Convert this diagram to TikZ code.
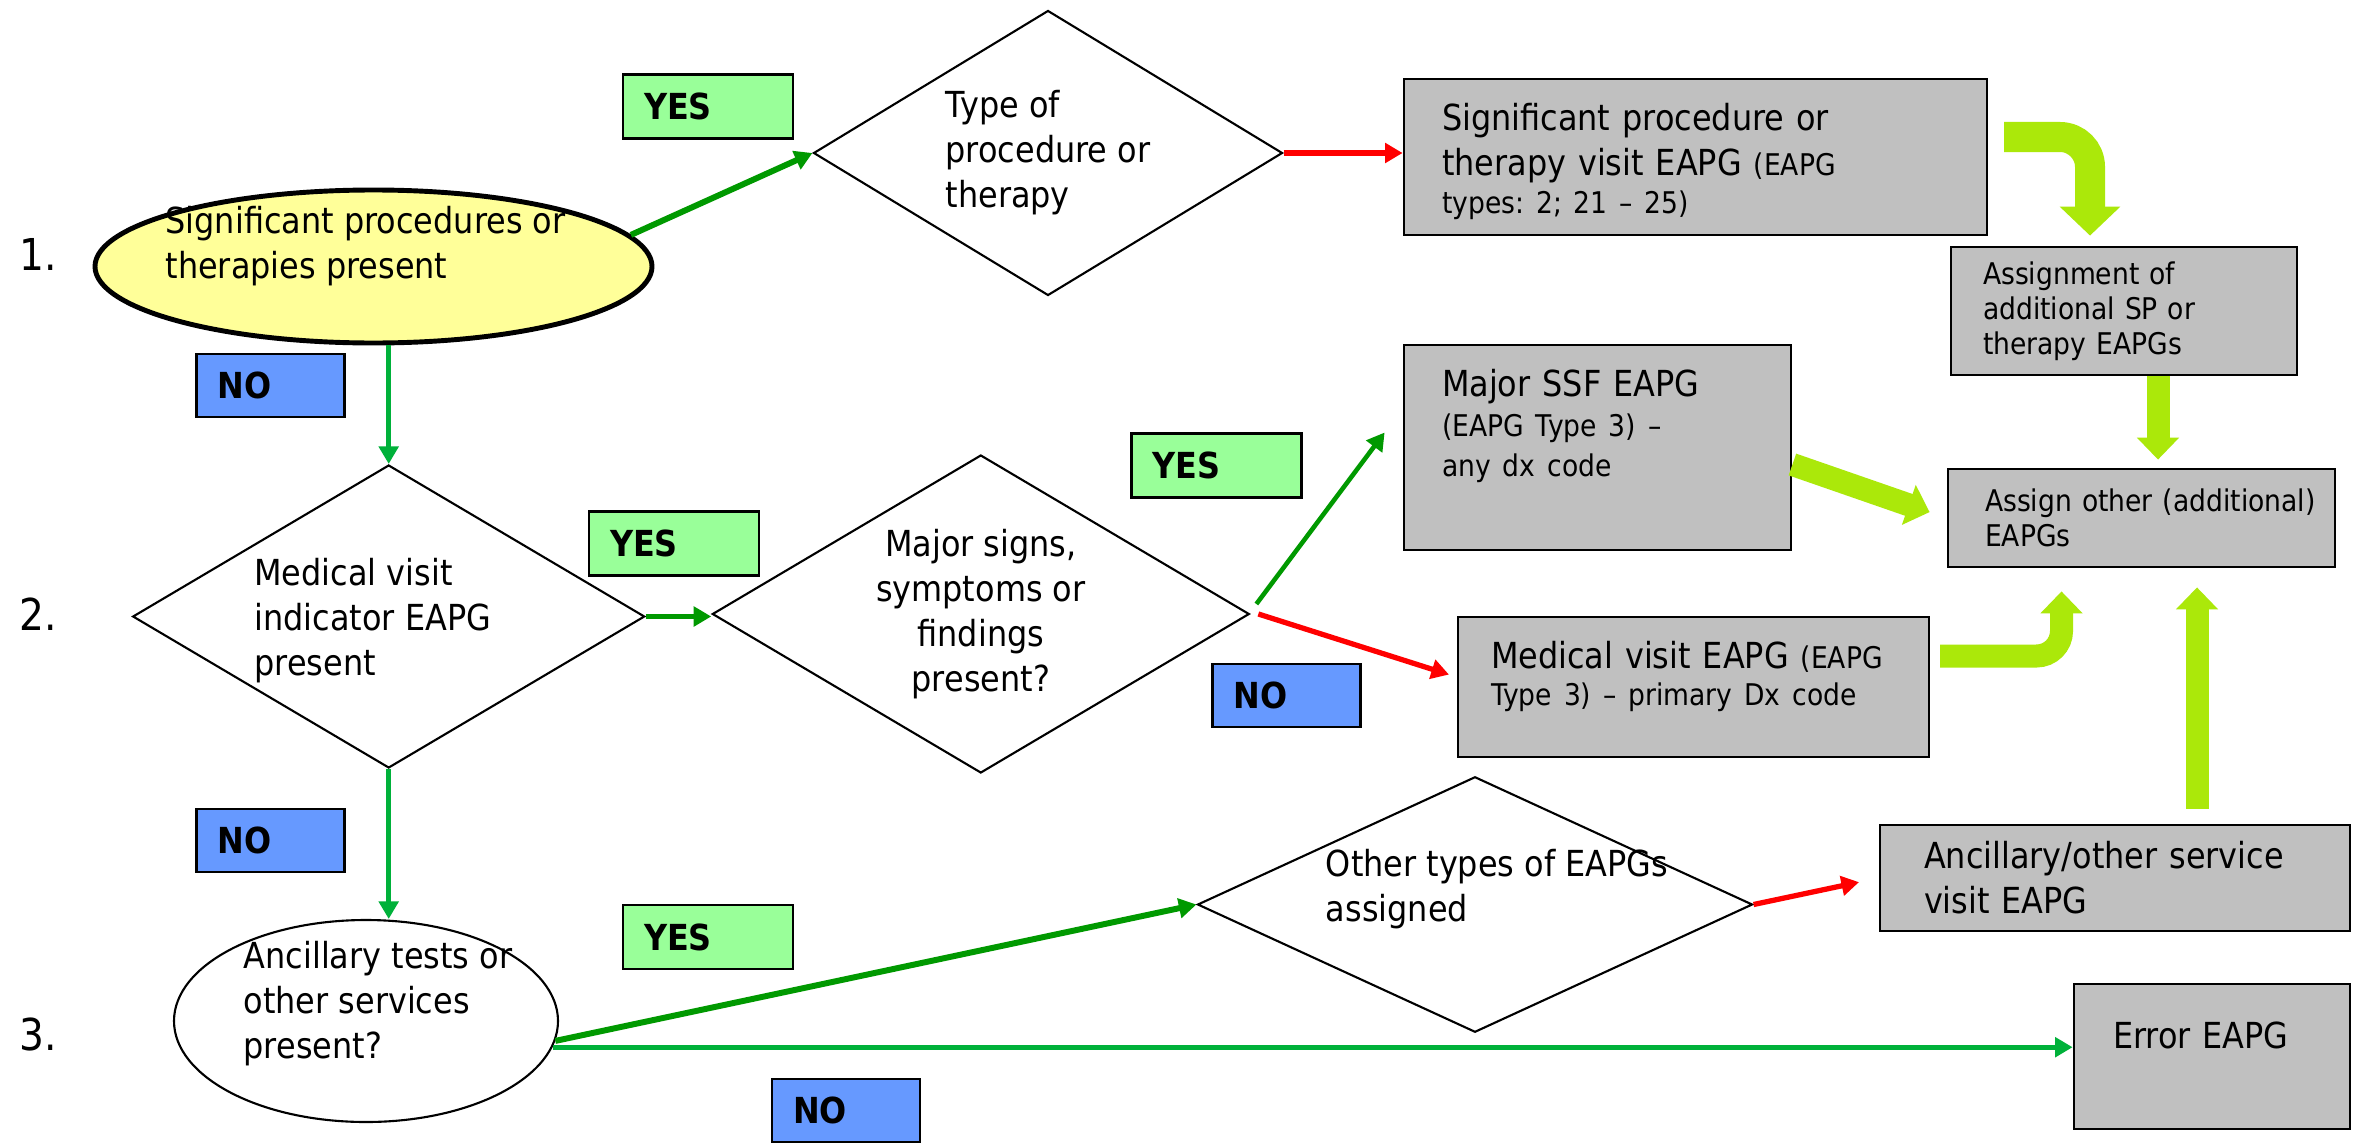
\documentclass[tikz,border=0pt]{standalone}
\usepackage{fontspec}
\setmainfont{DejaVu Sans}[FakeStretch=0.89]
\usetikzlibrary{arrows.meta,shapes.geometric}
\definecolor{boxgray}{HTML}{C0C0C0}
\definecolor{yesfill}{HTML}{99FF99}
\definecolor{nofill}{HTML}{6699FF}
\definecolor{startfill}{HTML}{FFFF99}
\definecolor{dkgreen}{HTML}{009900}
\definecolor{ltgreen}{HTML}{00B13A}
\definecolor{limefill}{HTML}{ABE80A}
\newcommand\lgfont{\fontsize{10.2}{12.8}\selectfont}
\newcommand\smfont{\fontsize{8.5}{10}\selectfont}
\newcommand\numfont{\fontsize{12.5}{15}\selectfont}
\frenchspacing
\tikzset{
  txt/.style={font=\lgfont,align=left,inner sep=0pt},
  startnode/.style={ellipse,draw=black,line width=1.4pt,fill=startfill,inner sep=0pt},
  askoval/.style={ellipse,draw=black,line width=0.6pt,fill=white,inner sep=0pt},
  decision/.style={diamond,draw=black,line width=0.6pt,inner sep=0pt},
  outcome/.style={draw=black,line width=0.8pt,fill=boxgray,font=\lgfont,align=left},
  yesbox/.style={draw=black,line width=0.8pt,fill=yesfill,font=\lgfont\bfseries,align=left,
    text width=1.28cm,inner xsep=0.21cm,minimum height=0.64cm},
  nobox/.style={draw=black,line width=0.8pt,fill=nofill,font=\lgfont\bfseries,align=left,
    text width=1.06cm,inner xsep=0.21cm,minimum height=0.63cm},
  yesline/.style={draw=dkgreen,line width=1.7pt,-{Triangle[width=5.5pt,length=5pt]}},
  noline/.style={draw=ltgreen,line width=1.5pt,-{Triangle[width=5.5pt,length=5pt]}},
  redline/.style={draw=red,line width=1.5pt,-{Triangle[width=5.5pt,length=5pt]}},
  limearrow/.style={draw=limefill,line width=0.23cm,-{Triangle[width=0.41cm,length=0.22cm]}}
}
\begin{document}
\begin{tikzpicture}
  \path[use as bounding box,fill=white] (0,0) rectangle (23.62,11.42);
  % row numbers
  \foreach \k/\y in {1/8.88,2/5.28,3/1.08}
    \node[font=\numfont] (num\k) at (0.38,\y) {\k.};
  % questions
  \node[startnode,minimum width=5.57cm,minimum height=1.53cm,
    label={[txt,xshift=-0.8mm,yshift=2mm]center:{Significant procedures or\\therapies present}}] (e1) at (3.735,8.755) {};
  \node[decision,minimum width=4.69cm,minimum height=2.85cm,
    label={[txt]center:{Type of\\procedure or\\therapy}}] (d1) at (10.48,9.89) {};
  \node[decision,minimum width=5.12cm,minimum height=3.03cm,
    label={[txt,xshift=-1.6mm,yshift=-0.4mm]center:{Medical visit\\indicator EAPG\\present}}] (d2) at (3.887,5.255) {};
  \node[decision,minimum width=5.37cm,minimum height=3.18cm,
    label={[txt,align=center]center:{Major signs,\\symptoms or\\findings\\present?}}] (d3) at (9.808,5.28) {};
  \node[askoval,minimum width=3.84cm,minimum height=2.02cm,
    label={[txt,xshift=1.2mm,yshift=1.7mm]center:{Ancillary tests or\\other services\\present?}}] (e3) at (3.66,1.21) {};
  \node[decision,minimum width=5.55cm,minimum height=2.555cm,
    label={[txt,xshift=2.2mm,yshift=1.5mm]center:{Other types of EAPGs\\assigned}}] (d4) at (14.75,2.375) {};
  % resulting EAPGs
  \node[outcome,minimum width=5.83cm,minimum height=1.56cm,text width=5.07cm,inner xsep=3.8mm,text depth=0.8cm] (b5) at (16.955,9.85)
    {Significant procedure or\\therapy visit EAPG {\smfont (EAPG}\\[-2.1pt]{\smfont types: 2; 21 -- 25)}};
  \node[outcome,font=\smfont,minimum width=3.46cm,minimum height=1.28cm,text width=2.82cm,inner xsep=3.2mm] (b6) at (21.24,8.31)
    {Assignment of\\additional SP or\\therapy EAPGs};
  \node[outcome,font=\smfont,minimum width=3.87cm,minimum height=0.98cm,text width=3.13cm,inner xsep=3.7mm] (b7) at (21.415,6.24)
    {\mbox{Assign other (additional)}\\EAPGs};
  \node[outcome,minimum width=3.87cm,minimum height=2.05cm,text width=3.11cm,inner xsep=3.8mm,text depth=1.3cm] (b8) at (15.975,6.945)
    {Major SSF EAPG\\[-1.3pt]{\smfont (EAPG Type 3) --}\\[-1.3pt]{\smfont any dx code}};
  \node[outcome,minimum width=4.71cm,minimum height=1.40cm,text width=4.05cm,inner xsep=3.3mm,text depth=0.65cm] (b9) at (16.935,4.55)
    {\mbox{Medical visit EAPG {\smfont (EAPG}}\\[-2.1pt]{\smfont Type 3) -- primary Dx code}};
  \node[outcome,minimum width=4.70cm,minimum height=1.06cm,text width=3.82cm,inner xsep=4.4mm] (b10) at (21.15,2.64)
    {Ancillary/other service\\visit EAPG};
  \node[outcome,minimum width=2.76cm,minimum height=1.45cm,text width=1.98cm,inner xsep=3.9mm,text depth=0.43cm] (b11) at (22.12,0.855)
    {\mbox{Error EAPG}};
  % yes / no tags
  \foreach \n/\x/\y in {1/7.08/10.355,2/6.74/5.985,3/12.165/6.765,4/7.08/2.05}
    \node[yesbox] (yes\n) at (\x,\y) {YES};
  \foreach \n/\x/\y in {1/2.705/7.565,2/12.865/4.465,3/2.705/3.015,4/8.46/0.315}
    \node[nobox] (no\n) at (\x,\y) {NO};
  % flow
  \draw[yesline] (e1.7) -- (d1.west);
  \draw[noline] (d2.north |- e1.south) -- (d2.north);
  \draw[redline] (d1.east) -- (d1.east -| b5.west);
  \draw[yesline] (d2.east) -- (d2.east -| d3.west);
  \draw[yesline,line width=1.3pt] ([shift={(0.6mm,1mm)}]d3.east) -- ([shift={(-1.8mm,1.5mm)}]b8.west);
  \draw[redline,shorten >=0.8mm] ([xshift=0.8mm]d3.east) -- ([yshift=1mm]b9.west);
  \draw[noline] (d2.south) -- (d2.south |- e3.north);
  \draw[yesline] (e3.354) -- (d4.west);
  \draw[noline] (e3.352) -- (e3.352 -| b11.west);
  \draw[redline,shorten >=2mm] (d4.east) -- (b10.west);
  % lime block arrows
  \coordinate (la) at (20.04,10.05);
  \coordinate (lb) at (19.40,4.86);
  \draw[limearrow,line width=0.30cm,-{Triangle[width=0.59cm,length=0.29cm]},rounded corners=0.3cm,shorten >=1mm]
    (la) -| ([xshift=-3.4mm]b6.north);
  \draw[limearrow,shorten >=0.8mm] ([xshift=3.4mm]b6.south) -- ([xshift=3.4mm]b6.south |- b7.north);
  \draw[limearrow,shorten >=1.8mm] ([yshift=-1.7mm]b8.east) -- (b7.west);
  \draw[limearrow,rounded corners=0.25cm,shorten >=2.3mm] (lb) -| ([xshift=-8mm]b7.south);
  \draw[limearrow,shorten <=1.5mm,shorten >=1.9mm] ([xshift=8.2mm]b10.north) -- ([xshift=8.2mm]b10.north |- b7.south);
\end{tikzpicture}
\end{document}
